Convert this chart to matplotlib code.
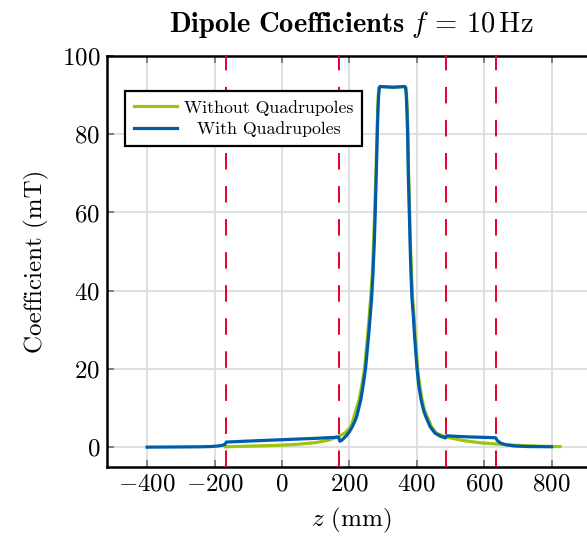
import matplotlib
matplotlib.use("Agg")
import matplotlib.pyplot as plt

plt.rcParams["font.family"] = "serif"
plt.rcParams["font.serif"] = ["cmr10"]
plt.rcParams["mathtext.fontset"] = "cm"
plt.rcParams["axes.formatter.use_mathtext"] = True

# field along z, without quadrupoles (mT)
z_without = [-168, -100, -50, 0, 50, 100, 140, 169, 187, 200, 207, 214, 229, 237,
             245, 250, 255, 259, 263, 268, 272, 275, 279, 282, 284, 286, 288, 292,
             330, 365, 368, 370, 372, 374, 376, 379, 382, 385, 388, 392, 395, 399,
             403, 409, 416, 423, 431, 444, 458, 487, 537, 590, 637, 690, 735, 780, 825]
b_without = [0.1, 0.25, 0.35, 0.5, 0.75, 1.15, 1.8, 2.8, 3.6, 4.8, 5.8, 7.8, 12.1, 15.8,
             20, 24.5, 29.2, 33.5, 37.8, 44, 52, 60, 70, 80, 86, 90, 91.9, 92.2,
             92.0, 92.2, 91.9, 90, 86, 80, 70, 60, 50, 44, 37.8, 33.5, 29.2, 24.5,
             20, 15.8, 12.1, 9.5, 7.8, 5.2, 3.6, 2.6, 1.7, 1.1, 0.8, 0.5, 0.35, 0.2, 0.15]

# field along z, with quadrupoles (mT)
z_with = [-400, -300, -250, -210, -190, -175, -168, -165, -100, 0, 100, 168, 172,
          178, 190, 200, 210, 222, 234, 241, 248, 253, 258, 262, 266, 270, 274,
          277, 280, 283, 285, 287, 289, 292, 330, 365, 367, 369, 371, 373, 375,
          378, 381, 383, 386, 390, 393, 397, 401, 406, 413, 420, 427, 440, 454,
          470, 485, 488, 520, 560, 600, 634, 640, 650, 665, 690, 730, 800]
b_with = [0.0, 0.05, 0.08, 0.15, 0.3, 0.5, 0.8, 1.3, 1.55, 1.9, 2.25, 2.55, 1.5,
          1.8, 2.8, 3.9, 5.4, 7.8, 12.1, 15.8, 20, 24.5, 29.2, 33.5, 37.8, 44, 52,
          60, 70, 80, 86, 90, 91.9, 92.2, 92.0, 92.2, 91.9, 90, 86, 80, 70,
          60, 50, 44, 37.8, 33.5, 29.2, 24.5, 20, 15.8, 12.1, 9.5, 7.8, 5.2, 3.6,
          2.8, 2.35, 2.9, 2.75, 2.6, 2.5, 2.4, 1.6, 1.0, 0.6, 0.3, 0.15, 0.1]

# element boundaries (mm)
boundaries = [-166, 168, 487, 636]

x_ticks = [-400, -200, 0, 200, 400, 600, 800]
y_ticks = [0, 20, 40, 60, 80, 100]

green = "#9dc40f"
blue = "#005ca9"
red = "#e4002b"

fig = plt.figure(figsize=(5.87, 5.36), dpi=100)
ax = fig.add_axes([107 / 587, 69.3 / 536, 488 / 587, 410.7 / 536])

ax.plot(z_without, b_without, color=green, lw=2.3, label="Without Quadrupoles", zorder=3)
ax.plot(z_with, b_with, color=blue, lw=2.3, label="With Quadrupoles", zorder=4)
for zb in boundaries:
    ax.axvline(zb, color=red, lw=1.4, dashes=(8.5, 8.5), zorder=5)

ax.set_xlim(-519, 929)
ax.set_ylim(-5, 100)
ax.set_xticks(x_ticks)
ax.set_yticks(y_ticks)
ax.grid(color="#dddddd", lw=1.3)
ax.set_axisbelow(True)
ax.tick_params(direction="in", length=5, width=1.4, color="#808080",
               top=True, right=True, labelsize=18, pad=5)
for s in ax.spines.values():
    s.set_linewidth(1.8)

ax.set_xlabel(r"$z$ (mm)", fontsize=18, labelpad=7)
ax.set_ylabel("Coefficient (mT)", fontsize=18, labelpad=9)
ax.set_title(r"$\mathbf{Dipole\ Coefficients}\ f \,=\, 10\,\mathrm{Hz}$", fontsize=20.5, pad=17)

leg = ax.legend(loc="upper left", bbox_to_anchor=(0.037, 0.915), borderaxespad=0,
                fontsize=12.8, fancybox=False, edgecolor="black", framealpha=1,
                handlelength=2.4, handletextpad=0.4, borderpad=0.5, labelspacing=0.3)
leg.get_frame().set_linewidth(1.6)
for h in leg.get_lines():
    h.set_linewidth(2.3)

# centre the legend labels like the original
fig.canvas.draw()
r = fig.canvas.get_renderer()
widths = [t.get_window_extent(r).width for t in leg.get_texts()]
for t, w in zip(leg.get_texts(), widths):
    t.set_x((max(widths) - w) / 2)

fig.savefig("out.png", dpi=100)
